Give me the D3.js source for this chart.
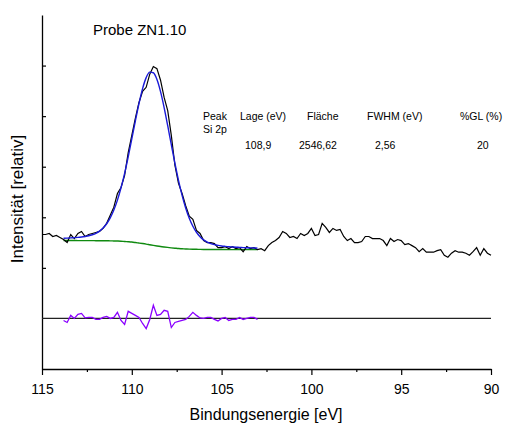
<!DOCTYPE html>
<html>
<head>
<meta charset="utf-8">
<script src="https://cdn.jsdelivr.net/npm/d3@7"></script>
<style>
  body { margin: 0; background: #fff; }
  text { font-family: "Liberation Sans", Arial, sans-serif; fill: #000; }
</style>
</head>
<body>
<svg id="chart" width="505" height="425"></svg>
<script>
// Si 2p XPS spectrum, sample ZN1.10 (binding energy in eV, intensity relative)
const majorTicks = [115, 110, 105, 100, 95, 90];
const minorTicks = [112.5, 107.5, 102.5, 97.5, 92.5];
const intensityTicks = [1, 2, 3, 4, 5];

// measured spectrum, 115.0 eV down to 90.0 eV in 0.2 eV steps
const spectrumStart = 115.0;
const spectrumStep = 0.2;
const spectrum = [
  1.66, 1.66, 1.68, 1.62, 1.64, 1.60, 1.56, 1.50, 1.66, 1.58,
  1.68, 1.72, 1.62, 1.66, 1.68, 1.70, 1.72, 1.78, 1.88, 2.04,
  2.20, 2.47, 2.59, 2.83, 3.28, 3.62, 3.96, 4.27, 4.49, 4.57,
  4.83, 4.98, 4.94, 4.71, 4.37, 4.11, 3.62, 3.03, 2.67, 2.47,
  2.23, 2.02, 1.96, 1.74, 1.68, 1.54, 1.50, 1.50, 1.48, 1.40,
  1.40, 1.42, 1.38, 1.42, 1.38, 1.40, 1.32, 1.42, 1.38, 1.40,
  1.36, 1.38, 1.34, 1.44, 1.50, 1.54, 1.60, 1.72, 1.68, 1.60,
  1.62, 1.58, 1.68, 1.64, 1.68, 1.78, 1.64, 1.66, 1.88, 1.80,
  1.70, 1.78, 1.74, 1.76, 1.62, 1.54, 1.58, 1.50, 1.50, 1.52,
  1.62, 1.62, 1.58, 1.58, 1.58, 1.54, 1.44, 1.58, 1.52, 1.56,
  1.54, 1.46, 1.48, 1.44, 1.40, 1.32, 1.38, 1.31, 1.31, 1.31,
  1.34, 1.36, 1.25, 1.21, 1.29, 1.34, 1.31, 1.31, 1.29, 1.25,
  1.32, 1.40, 1.25, 1.38, 1.29, 1.25
];

// fit region, 113.8 eV down to 103.0 eV in 0.2 eV steps
const fitStart = 113.8;
const fitStep = 0.2;
const shirleyBackground = [
  1.540, 1.540, 1.540, 1.540, 1.539, 1.539, 1.539, 1.538, 1.538, 1.537,
  1.537, 1.536, 1.535, 1.534, 1.532, 1.530, 1.527, 1.521, 1.516, 1.510,
  1.501, 1.491, 1.481, 1.470, 1.457, 1.444, 1.432, 1.421, 1.412, 1.404,
  1.396, 1.389, 1.382, 1.378, 1.374, 1.370, 1.368, 1.367, 1.365, 1.364,
  1.364, 1.363, 1.363, 1.362, 1.362, 1.362, 1.361, 1.361, 1.361, 1.361,
  1.360, 1.360, 1.360, 1.360, 1.360
];
const envelope = [
  1.584, 1.587, 1.592, 1.597, 1.602, 1.610, 1.621, 1.634, 1.655, 1.684,
  1.727, 1.787, 1.872, 1.989, 2.143, 2.340, 2.583, 2.869, 3.196, 3.549,
  3.908, 4.249, 4.545, 4.762, 4.871, 4.858, 4.724, 4.485, 4.170, 3.811,
  3.435, 3.069, 2.730, 2.434, 2.184, 1.981, 1.823, 1.704, 1.616, 1.554,
  1.511, 1.480, 1.459, 1.444, 1.433, 1.425, 1.418, 1.413, 1.408, 1.405,
  1.401, 1.398, 1.395, 1.393, 1.391
];
const residual = [
  -0.04, -0.08, 0.06, 0.00, 0.08, 0.10, 0.01, 0.02, 0.02, -0.02,
  -0.02, 0.02, 0.04, 0.00, 0.02, 0.12, -0.04, -0.12, 0.14, 0.10,
  0.06, 0.02, -0.10, -0.20, -0.02, 0.26, 0.06, 0.08, 0.16, 0.14,
  -0.18, -0.08, -0.06, -0.04, -0.02, 0.04, 0.12, 0.06, 0.01, 0.00,
  0.02, 0.02, -0.02, -0.05, 0.00, 0.02, -0.04, -0.02, -0.02, 0.02,
  -0.02, 0.00, 0.02, 0.02, -0.02
];

// peak parameter table
const tableHeader = ["Peak", "Lage (eV)", "Fläche", "FWHM (eV)", "%GL (%)"];
const tableRow = ["Si 2p", "108,9", "2546,62", "2,56", "20"];

const svg = d3.select("#chart");
const x = d3.scaleLinear().domain([115, 90]).range([42, 491]);
const y = d3.scaleLinear().domain([-1, 6]).range([369, 15]);

const energyAt = (start, step) => (d, i) => x(start - i * step);
const line = (start, step) => d3.line()
  .x(energyAt(start, step))
  .y(d => y(d));

// axes
const xAxis = svg.append("g").attr("transform", `translate(0,${y(-1)})`)
  .call(d3.axisBottom(x).tickValues(majorTicks).tickSize(6).tickSizeOuter(0).tickPadding(9)
    .tickFormat(d3.format("d")));
xAxis.select(".domain").attr("stroke", "#000").attr("stroke-width", 1.3);
xAxis.selectAll(".tick line").attr("stroke", "#000").attr("stroke-width", 1.2);
xAxis.selectAll(".tick text").attr("font-size", 14).attr("font-family", null);

svg.append("g").attr("transform", `translate(0,${y(-1)})`)
  .call(d3.axisBottom(x).tickValues(minorTicks).tickSize(3).tickSizeOuter(0).tickFormat(""))
  .call(g => g.select(".domain").remove())
  .selectAll(".tick line").attr("stroke", "#000").attr("stroke-width", 1.2);

const yAxis = svg.append("g").attr("transform", `translate(${x(115)},0)`)
  .call(d3.axisLeft(y).tickValues(intensityTicks).tickSize(-4).tickSizeOuter(0).tickFormat(""));
yAxis.select(".domain").attr("stroke", "#000").attr("stroke-width", 1.3);
yAxis.selectAll(".tick line").attr("stroke", "#000").attr("stroke-width", 1.2);

// zero line for the residual
svg.append("line")
  .attr("x1", x(115)).attr("x2", x(90))
  .attr("y1", y(0)).attr("y2", y(0))
  .attr("stroke", "#222").attr("stroke-width", 1.2);

// residual
svg.append("path").datum(residual)
  .attr("d", line(fitStart, fitStep))
  .attr("fill", "none").attr("stroke", "#8a00ff").attr("stroke-width", 1.3);

// Shirley background
svg.append("path").datum(shirleyBackground)
  .attr("d", line(fitStart, fitStep).curve(d3.curveMonotoneX))
  .attr("fill", "none").attr("stroke", "#108a10").attr("stroke-width", 1.4);

// measured spectrum
svg.append("path").datum(spectrum)
  .attr("d", line(spectrumStart, spectrumStep))
  .attr("fill", "none").attr("stroke", "#000").attr("stroke-width", 1.2);

// fit envelope
svg.append("path").datum(envelope)
  .attr("d", line(fitStart, fitStep).curve(d3.curveMonotoneX))
  .attr("fill", "none").attr("stroke", "#1a1ad8").attr("stroke-width", 1.4);

// titles
svg.append("text").attr("x", 93).attr("y", 35).attr("font-size", 15).text("Probe ZN1.10");
svg.append("text").attr("x", 266).attr("y", 420).attr("text-anchor", "middle")
  .attr("font-size", 16).text("Bindungsenergie [eV]");
svg.append("text").attr("transform", "translate(23,199) rotate(-90)")
  .attr("text-anchor", "middle").attr("font-size", 17).text("Intensität [relativ]");

// parameter table
const headerX = [203, 240, 307, 367, 460];
const rowX = [203, 245, 299, 375, 477];
const table = svg.append("g").attr("font-size", 10.5);
table.selectAll("text.h").data(tableHeader).join("text").attr("class", "h")
  .attr("x", (d, i) => headerX[i]).attr("y", 120).attr("font-size", 10.5).text(d => d);
table.selectAll("text.r").data(tableRow).join("text").attr("class", "r")
  .attr("x", (d, i) => rowX[i]).attr("y", (d, i) => i === 0 ? 133 : 149)
  .attr("font-size", 10.5).text(d => d);
</script>
</body>
</html>
